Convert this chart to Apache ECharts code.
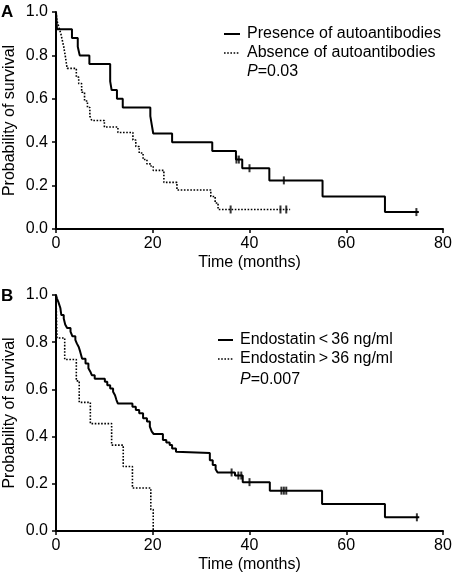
<!DOCTYPE html>
<html><head><meta charset="utf-8">
<script src="https://cdn.jsdelivr.net/npm/echarts@6/dist/echarts.min.js"></script>
<style>html,body{margin:0;padding:0;background:#fff}#c{width:454px;height:574px}</style>
</head><body><div id="c"></div>
<script>
// Panel A: autoantibodies
const aPresT = [0, 0.2, 3.3, 4.5, 4.9, 6.9, 11.2, 11.5, 12.6, 13.8, 19.5, 19.8, 20.1, 24.0, 32.3, 37.2, 38.5, 44.1, 55.1, 68.0, 75.0];
const aPresV = [1.0, 0.92, 0.88, 0.84, 0.80, 0.76, 0.68, 0.64, 0.60, 0.56, 0.52, 0.48, 0.44, 0.40, 0.36, 0.32, 0.28, 0.224, 0.15, 0.078, 0.078];
const aPresCensT = [37.3, 37.8, 40.0, 47.1, 74.5];
const aPresCensV = [0.32, 0.32, 0.28, 0.224, 0.078];
const aAbsT = [0, 0.2, 0.6, 1.0, 1.3, 1.6, 1.9, 2.3, 4.2, 4.7, 5.3, 5.9, 6.5, 7.0, 7.4, 10.0, 12.8, 15.9, 16.5, 17.2, 18.0, 18.8, 19.6, 20.1, 22.3, 25.0, 32.0, 32.9, 33.5, 48.4];
const aAbsV = [1.0, 0.96, 0.93, 0.90, 0.87, 0.84, 0.80, 0.74, 0.70, 0.67, 0.63, 0.59, 0.56, 0.52, 0.50, 0.47, 0.445, 0.41, 0.38, 0.35, 0.32, 0.30, 0.29, 0.27, 0.215, 0.18, 0.15, 0.12, 0.09, 0.09];
const aAbsCensT = [36.1, 46.4, 47.6];
const aAbsCensV = [0.09, 0.09, 0.09];

// Panel B: endostatin
const bLowT = [0, 0.2, 0.5, 0.9, 1.1, 1.6, 1.9, 2.3, 3.0, 3.4, 4.0, 4.3, 4.7, 5.0, 5.4, 6.1, 6.7, 7.1, 7.4, 8.0, 10.1, 10.6, 11.2, 11.8, 12.2, 12.5, 12.8, 15.8, 16.5, 17.2, 18.0, 18.8, 19.4, 19.8, 20.2, 22.1, 22.8, 23.5, 24.0, 24.8, 25.2, 31.8, 32.4, 33.0, 33.4, 37.0, 38.6, 44.2, 55.0, 68.0, 75.1];
const bLowV = [1, 0.985, 0.97, 0.945, 0.915, 0.90, 0.875, 0.86, 0.845, 0.825, 0.81, 0.795, 0.78, 0.76, 0.73, 0.71, 0.69, 0.675, 0.66, 0.645, 0.632, 0.618, 0.604, 0.59, 0.575, 0.555, 0.54, 0.527, 0.513, 0.499, 0.478, 0.464, 0.442, 0.421, 0.411, 0.386, 0.375, 0.364, 0.35, 0.336, 0.33, 0.30, 0.28, 0.262, 0.248, 0.235, 0.207, 0.171, 0.114, 0.058, 0.058];
const bLowCensT = [36.3, 37.7, 38.3, 40.0, 46.6, 47.1, 47.6, 74.6];
const bLowCensV = [0.248, 0.235, 0.235, 0.207, 0.171, 0.171, 0.171, 0.058];
const bHighT = [0, 0.1, 0.2, 1.8, 4.2, 4.8, 7.1, 11.5, 13.9, 15.8, 19.6, 20.1];
const bHighV = [1, 0.909, 0.818, 0.727, 0.636, 0.545, 0.455, 0.364, 0.273, 0.182, 0.091, 0];

const xTicks = [0, 20, 40, 60, 80];
const yTicks = [0.0, 0.2, 0.4, 0.6, 0.8, 1.0];
const legendA = ['Presence of autoantibodies', 'Absence of autoantibodies', '0.03'];
const legendB = ['Endostatin\u2009<\u200936 ng/ml', 'Endostatin\u2009>\u200936 ng/ml', '0.007'];

const zip = (t, v) => t.map((x, i) => [x, v[i]]);
const FONT = 'Liberation Sans, Arial, Helvetica, sans-serif';
const FS = 16;

function xAxisCfg(gi) {
  return {
    gridIndex: gi, type: 'value', min: xTicks[0], max: xTicks[xTicks.length - 1], interval: 20,
    name: 'Time (months)', nameLocation: 'middle', nameGap: 26, nameMoveOverlap: false,
    nameTextStyle: { fontFamily: FONT, fontSize: FS, color: '#000' },
    axisLine: { show: true, lineStyle: { color: '#000', width: 2 } },
    axisTick: { show: true, length: 4, lineStyle: { color: '#000', width: 1.5 } },
    axisLabel: { fontFamily: FONT, fontSize: FS, color: '#000', margin: 7 },
    splitLine: { show: false }
  };
}
function yAxisCfg(gi) {
  return {
    gridIndex: gi, type: 'value', min: yTicks[0], max: yTicks[yTicks.length - 1], interval: 0.2,
    name: 'Probability of survival', nameLocation: 'middle', nameGap: 38, nameMoveOverlap: false,
    nameTextStyle: { fontFamily: FONT, fontSize: FS, color: '#000' },
    axisLine: { show: true, lineStyle: { color: '#000', width: 2 } },
    axisTick: { show: true, length: 4, lineStyle: { color: '#000', width: 1.5 } },
    axisLabel: { fontFamily: FONT, fontSize: FS, color: '#000', margin: 8, formatter: v => v.toFixed(1) },
    splitLine: { show: false }
  };
}
function km(name, t, v, gi, type) {
  return {
    name, type: 'line', step: 'end', xAxisIndex: gi, yAxisIndex: gi,
    data: zip(t, v), showSymbol: false, symbol: 'none', animation: false,
    lineStyle: { color: '#000', width: type === 'solid' ? 2 : 1.6, type }
  };
}
function cens(t, v, gi) {
  return {
    type: 'scatter', xAxisIndex: gi, yAxisIndex: gi, data: zip(t, v),
    symbol: 'rect', symbolSize: [2, 8], itemStyle: { color: '#000' }, animation: false, z: 5
  };
}
function legendGraphic(labels, x0, x1, tx, ys) {
  const g = [];
  g.push({ type: 'line', shape: { x1: x0, y1: ys[0], x2: x1, y2: ys[0] }, style: { stroke: '#000', lineWidth: 2 } });
  g.push({ type: 'line', shape: { x1: x0, y1: ys[1], x2: x1, y2: ys[1] }, style: { stroke: '#000', lineWidth: 1.6, lineDash: [1.6, 1.6] } });
  g.push({ type: 'text', x: tx, y: ys[0], style: { text: labels[0], font: FS + 'px ' + FONT, fill: '#000', verticalAlign: 'middle' } });
  g.push({ type: 'text', x: tx, y: ys[1], style: { text: labels[1], font: FS + 'px ' + FONT, fill: '#000', verticalAlign: 'middle' } });
  g.push({ type: 'text', x: tx, y: ys[2], style: {
    text: '{i|P}=' + labels[2], font: FS + 'px ' + FONT, fill: '#000', verticalAlign: 'middle',
    rich: { i: { fontStyle: 'italic', fontFamily: FONT, fontSize: FS, fill: '#000' } } } });
  return g;
}

const chart = echarts.init(document.getElementById('c'), null, { renderer: 'canvas' });
chart.setOption({
  backgroundColor: '#fff',
  animation: false,
  grid: [
    { left: 56, top: 12, width: 387, height: 217, containLabel: false, outerBoundsMode: 'none' },
    { left: 56, top: 295, width: 387, height: 236, containLabel: false, outerBoundsMode: 'none' }
  ],
  xAxis: [xAxisCfg(0), xAxisCfg(1)],
  yAxis: [yAxisCfg(0), yAxisCfg(1)],
  series: [
    km('Presence of autoantibodies', aPresT, aPresV, 0, 'solid'),
    km('Absence of autoantibodies', aAbsT, aAbsV, 0, 'dotted'),
    cens(aPresCensT, aPresCensV, 0),
    cens(aAbsCensT, aAbsCensV, 0),
    km('Endostatin<36 ng/ml', bLowT, bLowV, 1, 'solid'),
    km('Endostatin>36 ng/ml', bHighT, bHighV, 1, 'dotted'),
    cens(bLowCensT, bLowCensV, 1)
  ],
  graphic: [
    { type: 'text', x: 1, y: 4, style: { text: 'A', font: 'bold 17px ' + FONT, fill: '#000' } },
    { type: 'text', x: 1, y: 288, style: { text: 'B', font: 'bold 17px ' + FONT, fill: '#000' } },
    ...legendGraphic(legendA, 224, 240, 247, [34, 53, 72]),
    ...legendGraphic(legendB, 218, 233, 240, [340, 359, 380])
  ]
});
</script></body></html>
